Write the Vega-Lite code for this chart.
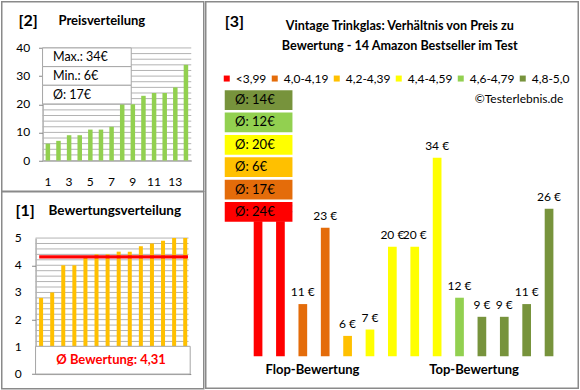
{
  "$schema": "https://vega.github.io/schema/vega-lite/v6.json",
  "padding": {"left": 0.75, "top": 0.75, "right": 0, "bottom": 0},
  "background": "white",
  "config": {
    "font": "Lato",
    "view": {"stroke": "#8a8a8a", "strokeWidth": 1.5},
    "axis": {"domainColor": "#868686", "tickColor": "#868686", "grid": false, "labels": false},
    "text": {"font": "Lato"}
  },
  "datasets": {
    "products": [
      {"pos": 1, "rating": 2.8, "price": 24, "cat": "<3,99"},
      {"pos": 2, "rating": 3.0, "price": 24, "cat": "<3,99"},
      {"pos": 3, "rating": 4.0, "price": 11, "cat": "4,0-4,19"},
      {"pos": 4, "rating": 4.0, "price": 23, "cat": "4,0-4,19"},
      {"pos": 5, "rating": 4.3, "price": 6, "cat": "4,2-4,39"},
      {"pos": 6, "rating": 4.4, "price": 7, "cat": "4,4-4,59"},
      {"pos": 7, "rating": 4.4, "price": 20, "cat": "4,4-4,59"},
      {"pos": 8, "rating": 4.5, "price": 20, "cat": "4,4-4,59"},
      {"pos": 9, "rating": 4.5, "price": 34, "cat": "4,4-4,59"},
      {"pos": 10, "rating": 4.7, "price": 12, "cat": "4,6-4,79"},
      {"pos": 11, "rating": 4.8, "price": 9, "cat": "4,8-5,0"},
      {"pos": 12, "rating": 4.9, "price": 9, "cat": "4,8-5,0"},
      {"pos": 13, "rating": 5.0, "price": 11, "cat": "4,8-5,0"},
      {"pos": 14, "rating": 5.0, "price": 26, "cat": "4,8-5,0"}
    ]
  },
  "data": {"name": "products"},
  "bounds": "full",
  "spacing": 0,
  "hconcat": [
    {
      "bounds": "flush",
      "spacing": 0,
      "vconcat": [
        {
          "width": 202,
          "height": 189.5,
          "resolve": {"scale": {"y": "independent"}},
          "layer": [
            {
              "layer": [
                {
                  "data": {"values": [{"price": 0}, {"price": 2}, {"price": 4}, {"price": 6}, {"price": 8}, {"price": 10}, {"price": 12}, {"price": 14}, {"price": 16}, {"price": 18}, {"price": 20}, {"price": 22}, {"price": 24}, {"price": 26}, {"price": 28}, {"price": 30}, {"price": 32}, {"price": 34}, {"price": 36}, {"price": 38}, {"price": 40}]},
                  "mark": {"type": "rule", "color": "#b3b3b3", "strokeWidth": 1},
                  "encoding": {
                    "y": {"field": "price", "type": "quantitative"},
                    "x": {"datum": 0.5},
                    "x2": {"datum": 14.5}
                  }
                },
                {
                  "transform": [{"window": [{"op": "row_number", "as": "rank"}], "sort": [{"field": "price", "order": "ascending"}]}],
                  "mark": {"type": "bar", "color": "#92D050", "width": 4.5},
                  "encoding": {
                    "x": {"field": "rank", "type": "quantitative", "scale": {"domain": [0.5, 14.5], "range": [40.8, 189.5], "nice": false, "zero": false, "padding": 0}, "axis": {"offset": -30.7, "values": [1, 3, 5, 7, 9, 11, 13], "ticks": false, "labels": false, "title": null, "grid": false}},
                    "y": {"field": "price", "type": "quantitative", "scale": {"domain": [0, 40], "range": [158.8, 46.2], "nice": false, "padding": 0}, "axis": {"offset": -40.8, "values": [0, 10, 20, 30, 40], "tickSize": 4, "labels": false, "title": null, "grid": false}}
                  }
                },
                {
                  "data": {"values": [{"rank": 1}, {"rank": 3}, {"rank": 5}, {"rank": 7}, {"rank": 9}, {"rank": 11}, {"rank": 13}]},
                  "mark": {"type": "text", "fontSize": 12, "align": "center", "baseline": "middle", "color": "#000000"},
                  "encoding": {"x": {"field": "rank", "type": "quantitative"}, "y": {"datum": -7.6}, "text": {"field": "rank", "type": "quantitative"}}
                },
                {
                  "data": {"values": [{"price": 0}, {"price": 10}, {"price": 20}, {"price": 30}, {"price": 40}]},
                  "mark": {"type": "text", "fontSize": 12, "align": "right", "baseline": "middle", "color": "#000000"},
                  "encoding": {"x": {"datum": -0.658}, "y": {"field": "price", "type": "quantitative"}, "text": {"field": "price", "type": "quantitative"}}
                },
                {
                  "data": {"values": [{}]},
                  "mark": {"type": "text", "fontSize": 16, "fontWeight": "bold", "align": "center", "baseline": "middle", "color": "#000000"},
                  "encoding": {"x": {"datum": -0.865}, "y": {"datum": 49.6}, "text": {"value": "[2]"}}
                },
                {
                  "data": {"values": [{}]},
                  "mark": {"type": "text", "fontSize": 13, "fontWeight": "bold", "align": "left", "baseline": "middle", "color": "#000000"},
                  "encoding": {"x": {"datum": 2.0}, "y": {"datum": 49.6}, "text": {"value": "Preisverteilung"}}
                }
              ]
            },
            {
              "transform": [
                {"aggregate": [{"op": "max", "field": "price", "as": "max"}, {"op": "min", "field": "price", "as": "min"}, {"op": "mean", "field": "price", "as": "mean"}]},
                {"fold": ["max", "min", "mean"], "as": ["stat", "value"]},
                {"calculate": "datum.stat === 'max' ? 'Max.: ' + format(datum.value, '.0f') + '€' : datum.stat === 'min' ? 'Min.: ' + format(datum.value, '.0f') + '€' : 'Ø: ' + format(datum.value, '.0f') + '€'", "as": "label"}
              ],
              "encoding": {
                "y": {"field": "stat", "type": "nominal", "scale": {"domain": ["max", "min", "mean"], "range": [46.2, 102.2], "paddingInner": 0, "paddingOuter": 0}, "axis": null}
              },
              "layer": [
                {
                  "mark": {"type": "rect", "fill": "white", "stroke": "#a6a6a6", "strokeWidth": 1},
                  "encoding": {"x": {"datum": 0.5}, "x2": {"datum": 8.85}}
                },
                {
                  "mark": {"type": "text", "align": "left", "baseline": "middle", "fontSize": 12.5, "color": "#000000"},
                  "encoding": {"x": {"datum": 1.48}, "text": {"field": "label"}}
                }
              ]
            }
          ]
        },
        {
          "width": 202,
          "height": 197,
          "layer": [
            {
              "data": {"values": [{"rating": 0}, {"rating": 0.2}, {"rating": 0.4}, {"rating": 0.6}, {"rating": 0.8}, {"rating": 1}, {"rating": 1.2}, {"rating": 1.4}, {"rating": 1.6}, {"rating": 1.8}, {"rating": 2}, {"rating": 2.2}, {"rating": 2.4}, {"rating": 2.6}, {"rating": 2.8}, {"rating": 3}, {"rating": 3.2}, {"rating": 3.4}, {"rating": 3.6}, {"rating": 3.8}, {"rating": 4}, {"rating": 4.2}, {"rating": 4.4}, {"rating": 4.6}, {"rating": 4.8}, {"rating": 5}]},
              "mark": {"type": "rule", "color": "#b3b3b3", "strokeWidth": 1},
              "encoding": {
                "y": {"field": "rating", "type": "quantitative"},
                "x": {"datum": 0.5},
                "x2": {"datum": 14.3}
              }
            },
            {
              "mark": {"type": "bar", "color": "#FFC000", "width": 4},
              "encoding": {
                "x": {"field": "pos", "type": "quantitative", "scale": {"domain": [0.5, 14.5], "range": [33.8, 189], "nice": false, "zero": false, "padding": 0}, "axis": {"offset": -14.7, "labels": false, "ticks": false, "title": null, "grid": false}},
                "y": {"field": "rating", "type": "quantitative", "scale": {"domain": [0, 5], "range": [182.3, 46.3], "nice": false, "padding": 0}, "axis": {"offset": -33.8, "values": [0, 1, 2, 3, 4, 5], "tickSize": 4, "labels": false, "title": null, "grid": false}}
              }
            },
            {
              "data": {"values": [{"rating": 0}, {"rating": 1}, {"rating": 2}, {"rating": 3}, {"rating": 4}, {"rating": 5}]},
              "mark": {"type": "text", "fontSize": 12, "align": "right", "baseline": "middle", "color": "#000000"},
              "encoding": {"x": {"datum": -0.745}, "y": {"field": "rating", "type": "quantitative"}, "text": {"field": "rating", "type": "quantitative"}}
            },
            {
              "transform": [{"aggregate": [{"op": "mean", "field": "rating", "as": "rating"}]}],
              "mark": {"type": "rule", "color": "#FF0000", "strokeWidth": 3.3},
              "encoding": {"y": {"field": "rating", "type": "quantitative"}, "x": {"datum": 0.83}, "x2": {"datum": 14.25}}
            },
            {
              "data": {"values": [{}]},
              "mark": {"type": "rect", "fill": "white", "stroke": "#a6a6a6", "strokeWidth": 1},
              "encoding": {"x": {"datum": 0.5}, "x2": {"datum": 14.45}, "y": {"datum": 0}, "y2": {"datum": 1.02}}
            },
            {
              "transform": [
                {"aggregate": [{"op": "mean", "field": "rating", "as": "m"}]},
                {"calculate": "'Ø Bewertung: ' + replace(format(datum.m, '.2f'), '.', ',')", "as": "label"}
              ],
              "mark": {"type": "text", "align": "center", "baseline": "middle", "fontSize": 13, "fontWeight": "bold", "color": "#FF0000"},
              "encoding": {"x": {"datum": 7.31}, "y": {"datum": 0.515}, "text": {"field": "label"}}
            },
            {
              "data": {"values": [{}]},
              "mark": {"type": "text", "fontSize": 16, "fontWeight": "bold", "align": "center", "baseline": "middle", "color": "#000000"},
              "encoding": {"x": {"datum": -0.447}, "y": {"datum": 5.978}, "text": {"value": "[1]"}}
            },
            {
              "data": {"values": [{}]},
              "mark": {"type": "text", "fontSize": 13.5, "fontWeight": "bold", "align": "left", "baseline": "middle", "color": "#000000"},
              "encoding": {"x": {"datum": 1.673}, "y": {"datum": 5.978}, "text": {"value": "Bewertungsverteilung"}}
            }
          ]
        }
      ]
    },
    {
      "width": 372.5,
      "height": 386.5,
      "resolve": {"scale": {"y": "independent"}},
      "layer": [
        {
          "layer": [
            {
              "mark": {"type": "bar", "width": 8.7},
              "encoding": {
                "x": {"field": "pos", "type": "quantitative", "scale": {"domain": [1, 14], "range": [52.3, 343.3], "nice": false, "zero": false, "padding": 0}, "axis": null},
                "y": {"field": "price", "type": "quantitative", "scale": {"domain": [2.8, 34], "range": [354.5, 156], "nice": false, "zero": false, "padding": 0}, "axis": null},
                "y2": {"datum": 2.8},
                "color": {
                  "field": "cat", "type": "nominal",
                  "scale": {"domain": ["<3,99", "4,0-4,19", "4,2-4,39", "4,4-4,59", "4,6-4,79", "4,8-5,0"], "range": ["#FF0000", "#E46C0A", "#FFC000", "#FFFF00", "#92D050", "#77933C"]},
                  "legend": {"orient": "none", "direction": "horizontal", "legendX": 219, "legendY": 70.8, "title": null, "symbolType": "square", "symbolSize": 36, "symbolStrokeWidth": 0, "labelFont": "Lato", "labelFontSize": 12, "labelColor": "#000000", "labelOffset": 3, "columnPadding": 2, "gridAlign": "none", "padding": 0}
                }
              }
            },
            {
              "transform": [{"calculate": "datum.price + ' €'", "as": "label"}],
              "mark": {"type": "text", "align": "center", "baseline": "middle", "dy": -12, "fontSize": 12, "color": "#000000"},
              "encoding": {
                "x": {"field": "pos", "type": "quantitative"},
                "y": {"field": "price", "type": "quantitative"},
                "text": {"field": "label"}
              }
            },
            {
              "data": {"values": [{"group": "Flop-Bewertung", "at": 3.43}, {"group": "Top-Bewertung", "at": 10.65}]},
              "mark": {"type": "text", "align": "center", "baseline": "middle", "fontSize": 13, "fontWeight": "bold", "color": "#000000"},
              "encoding": {"x": {"field": "at", "type": "quantitative"}, "y": {"datum": 0.6}, "text": {"field": "group"}}
            },
            {
              "data": {"values": [{}]},
              "mark": {"type": "text", "fontSize": 16, "fontWeight": "bold", "align": "center", "baseline": "middle", "color": "#000000"},
              "encoding": {"x": {"datum": -0.054}, "y": {"datum": 55.35}, "text": {"value": "[3]"}}
            },
            {
              "data": {"values": [{}]},
              "mark": {"type": "text", "fontSize": 12.6, "fontWeight": "bold", "align": "center", "baseline": "middle", "color": "#000000"},
              "encoding": {"x": {"datum": 7.33}, "y": {"datum": 54.67}, "text": {"value": "Vintage Trinkglas: Verhältnis von Preis zu"}}
            },
            {
              "data": {"values": [{}]},
              "mark": {"type": "text", "fontSize": 12.6, "fontWeight": "bold", "align": "center", "baseline": "middle", "color": "#000000"},
              "encoding": {"x": {"datum": 7.33}, "y": {"datum": 51.53}, "text": {"value": "Bewertung - 14 Amazon Bestseller im Test"}}
            },
            {
              "data": {"values": [{}]},
              "mark": {"type": "text", "fontSize": 12, "align": "right", "baseline": "middle", "color": "#000000"},
              "encoding": {"x": {"datum": 14.64}, "y": {"datum": 43.3}, "text": {"value": "©Testerlebnis.de"}}
            }
          ]
        },
        {
          "transform": [
            {"aggregate": [{"op": "mean", "field": "price", "as": "avg"}], "groupby": ["cat"]},
            {"calculate": "'Ø: ' + format(datum.avg, '.0f') + '€'", "as": "label"}
          ],
          "encoding": {
            "y": {"field": "cat", "type": "nominal", "scale": {"domain": ["4,8-5,0", "4,6-4,79", "4,4-4,59", "4,2-4,39", "4,0-4,19", "<3,99"], "range": [88.5, 220], "paddingInner": 0.12, "paddingOuter": 0}, "axis": null}
          },
          "layer": [
            {
              "mark": {"type": "rect"},
              "encoding": {"x": {"datum": -0.488}, "x2": {"datum": 2.537}, "color": {"field": "cat", "type": "nominal", "legend": null}}
            },
            {
              "mark": {"type": "text", "align": "left", "baseline": "middle", "fontSize": 13, "color": "#000000"},
              "encoding": {"x": {"datum": -0.027}, "text": {"field": "label"}}
            }
          ]
        }
      ]
    }
  ]
}
